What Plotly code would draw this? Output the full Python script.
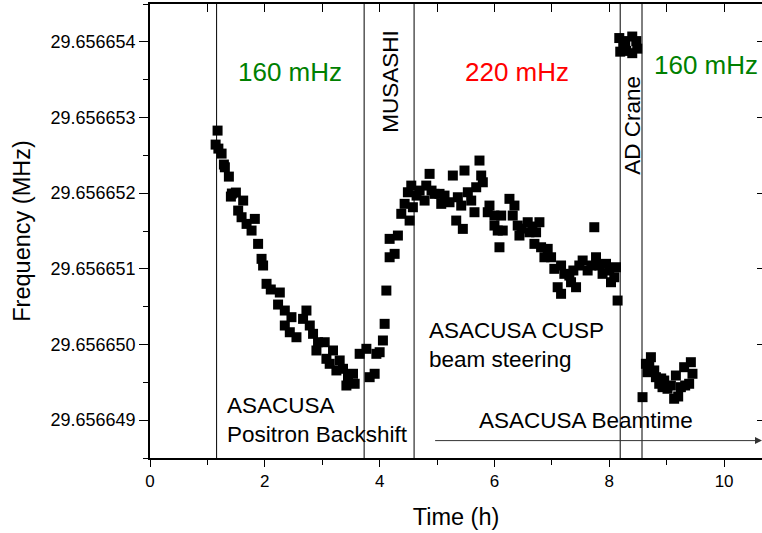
import plotly.graph_objects as go

# ---------------- data (time in h, frequency in MHz) ----------------
t_backshift = [1.177, 1.143, 1.191, 1.247, 1.287, 1.304, 1.374, 1.426, 1.409, 1.496,
               1.623, 1.536, 1.595, 1.682, 1.826, 1.769, 1.883, 1.943, 1.970, 2.030,
               2.104, 2.261, 2.231, 2.348, 2.464, 2.725, 2.666, 2.348, 2.435, 2.551,
               2.783, 2.840, 2.927, 3.043, 2.899, 3.188, 3.073, 3.130, 3.304, 3.247,
               3.362, 3.449, 3.536, 3.421, 3.565, 3.652]
f_backshift = [29.656652827, 29.656652642, 29.656652589, 29.656652523, 29.656652378,
               29.656652342, 29.656652219, 29.656651995, 29.656651955, 29.656652008,
               29.656651902, 29.656651770, 29.656651682, 29.656651594, 29.656651660,
               29.656651506, 29.656651330, 29.656651132, 29.656651044, 29.656650802,
               29.656650727, 29.656650687, 29.656650528, 29.656650449, 29.656650361,
               29.656650449, 29.656650339, 29.656650251, 29.656650162, 29.656650096,
               29.656650251, 29.656650141, 29.656650030, 29.656650030, 29.656649921,
               29.656649921, 29.656649811, 29.656649745, 29.656649789, 29.656649657,
               29.656649679, 29.656649568, 29.656649613, 29.656649458, 29.656649481,
               29.656649877]

t_musashi = [3.769, 3.826, 3.913, 3.943, 4.000, 4.057, 4.087, 4.117, 4.174, 4.261,
             4.174, 4.318, 4.377, 4.435, 4.492, 4.551, 4.522, 4.579]
f_musashi = [29.656649943, 29.656649568, 29.656649613, 29.656649877, 29.656649898,
             29.656650053, 29.656650273, 29.656650713, 29.656651153, 29.656651198,
             29.656651396, 29.656651440, 29.656651727, 29.656651859, 29.656652012,
             29.656652100, 29.656651638, 29.656651814]

t_cusp = [4.643, 4.696, 4.812, 4.870, 4.783, 4.904, 4.957, 5.043, 5.073, 5.130,
          5.217, 5.275, 5.478, 5.362, 5.334, 5.449, 5.421, 5.536, 5.595, 5.652,
          5.682, 5.739, 5.769, 5.797, 5.913, 5.883, 6.000, 6.000, 6.057, 6.087,
          6.261, 6.348, 6.318, 6.117, 6.144, 6.405, 6.435, 6.470, 6.579, 6.609,
          6.661, 6.783, 6.725, 6.696, 6.812, 6.927, 6.870, 6.986, 7.043, 7.160,
          7.217, 7.101, 7.160, 7.334, 7.374, 7.421, 7.304, 7.478, 7.536, 7.623,
          7.687, 7.739, 7.769, 7.826, 7.883, 7.943, 8.000, 8.030, 8.117, 8.087,
          8.145]
f_cusp = [29.656651968, 29.656652034, 29.656652100, 29.656652255, 29.656651902,
          29.656652034, 29.656651991, 29.656651991, 29.656651859, 29.656651968,
          29.656651880, 29.656652233, 29.656652299, 29.656651946, 29.656651638,
          29.656651528, 29.656651836, 29.656652012, 29.656651902, 29.656651748,
          29.656652078, 29.656652431, 29.656652233, 29.656652144, 29.656651836,
          29.656651748, 29.656651704, 29.656651572, 29.656651506, 29.656651285,
          29.656651925, 29.656651836, 29.656651704, 29.656651704, 29.656651506,
          29.656651572, 29.656651440, 29.656651532, 29.656651616, 29.656651483,
          29.656651559, 29.656651616, 29.656651483, 29.656651330, 29.656651285,
          29.656651264, 29.656651153, 29.656651153, 29.656651000, 29.656651044,
          29.656650934, 29.656650757, 29.656650670, 29.656650823, 29.656650978,
          29.656650757, 29.656650911, 29.656651044, 29.656651110, 29.656650978,
          29.656651044, 29.656651550, 29.656651153, 29.656651044, 29.656650934,
          29.656651066, 29.656650978, 29.656650823, 29.656651021, 29.656650889,
          29.656650581]

t_crane = [8.174, 8.278, 8.400, 8.470, 8.191, 8.296, 8.400, 8.487, 8.243]
f_crane = [29.656654050, 29.656654010, 29.656654070, 29.656654010, 29.656653870,
           29.656653880, 29.656653850, 29.656653910, 29.656653960]

t_after = [8.579, 8.638, 8.666, 8.696, 8.725, 8.783, 8.812, 8.870, 8.904, 8.927,
           8.957, 9.014, 9.073, 9.130, 9.160, 9.200, 9.247, 9.304, 9.322, 9.391,
           9.421, 9.449]
f_after = [29.656649304, 29.656649745, 29.656649634, 29.656649723, 29.656649832,
           29.656649657, 29.656649568, 29.656649481, 29.656649551, 29.656649436,
           29.656649524, 29.656649415, 29.656649458, 29.656649283, 29.656649590,
           29.656649313, 29.656649436, 29.656649700, 29.656649458, 29.656649481,
           29.656649766, 29.656649613]

# event boundaries (h)
event_times = [1.16, 3.73, 4.60, 8.19, 8.57]

# axis ticks
x_major = [0, 2, 4, 6, 8, 10]
x_minor = [1, 3, 5, 7, 9]
y_major = [29.656649, 29.656650, 29.656651, 29.656652, 29.656653, 29.656654]
y_major_text = ["29.656649", "29.656650", "29.656651", "29.656652", "29.656653", "29.656654"]
y_minor = [29.6566485, 29.6566495, 29.6566505, 29.6566515, 29.6566525, 29.6566535, 29.6566545]

X_RANGE = [0, 10.66]
Y_RANGE = [29.6566485, 29.6566545]

FONT = "Arial, 'Liberation Sans', sans-serif"

fig = go.Figure()
for tt, ff in [(t_backshift, f_backshift), (t_musashi, f_musashi), (t_cusp, f_cusp),
               (t_crane, f_crane), (t_after, f_after)]:
    fig.add_trace(go.Scatter(x=tt, y=ff, mode="markers",
                             marker=dict(symbol="square", size=10, color="black",
                                         line=dict(width=0)),
                             showlegend=False, hoverinfo="x+y"))

# dummy trace for the mirrored (top/right) axes
fig.add_trace(go.Scatter(x=[], y=[], xaxis="x2", yaxis="y2", showlegend=False,
                         hoverinfo="skip"))

for t in event_times:
    fig.add_shape(type="line", x0=t, x1=t, y0=0, y1=1, xref="x", yref="paper",
                  line=dict(color="black", width=1))

# text labels
def txt(x, y, s, color="black", size=22.5, angle=0, xanchor="center", align="center"):
    fig.add_annotation(x=x, y=y, xref="x", yref="y", text=s, showarrow=False,
                       textangle=angle, xanchor=xanchor, yanchor="middle", align=align,
                       font=dict(family=FONT, size=size, color=color))

txt(2.44, 29.6566536, "160 mHz", color="#008000", size=26)
txt(6.40, 29.6566536, "220 mHz", color="#ff0000", size=26)
txt(9.69, 29.6566537, "160 mHz", color="#008000", size=26)
txt(4.19, 29.65665348, "MUSASHI", angle=-90)
txt(8.39, 29.6566529, "AD Crane", angle=-90)
txt(1.30, 29.6566490, "ASACUSA<br>Positron Backshift", xanchor="left", align="left")
txt(4.82, 29.6566500, "ASACUSA CUSP<br>beam steering", xanchor="left", align="left")
txt(5.69, 29.6566490, "ASACUSA Beamtime", xanchor="left", align="left")

# beamtime arrow
fig.add_annotation(x=10.66, y=29.65664873, ax=4.94, ay=29.65664873, xref="x", yref="y",
                   axref="x", ayref="y", showarrow=True, arrowhead=2, arrowsize=1.4,
                   arrowwidth=1, arrowcolor="#333333", text="")

fig.update_layout(
    width=762, height=533,
    margin=dict(l=150, r=0, t=4, b=75),
    paper_bgcolor="white", plot_bgcolor="white",
    font=dict(family=FONT, color="black"),
    xaxis=dict(range=X_RANGE, tickmode="array", tickvals=x_major,
               ticks="outside", ticklen=7, tickwidth=1, tickcolor="black",
               minor=dict(tickmode="array", tickvals=x_minor, ticks="outside",
                          ticklen=5, tickcolor="black"),
               showline=True, linecolor="black", linewidth=1.5, showgrid=False,
               zeroline=False, tickfont=dict(size=17),
               title=dict(text="Time (h)", font=dict(size=23.5), standoff=18)),
    yaxis=dict(range=Y_RANGE, tickmode="array", tickvals=y_major, ticktext=y_major_text,
               ticks="outside", ticklen=9, tickwidth=1, tickcolor="black",
               minor=dict(tickmode="array", tickvals=y_minor, ticks="outside",
                          ticklen=5, tickcolor="black"),
               showline=True, linecolor="black", linewidth=1.5, showgrid=False,
               zeroline=False, tickfont=dict(size=18),
               title=dict(text="Frequency (MHz)", font=dict(size=23.5), standoff=13)),
    xaxis2=dict(range=X_RANGE, overlaying="x", side="top", tickmode="array",
                tickvals=x_major + x_minor, ticks="inside", ticklen=8,
                tickcolor="black", showticklabels=False, showline=True,
                linecolor="black", linewidth=1.5, showgrid=False, zeroline=False),
    yaxis2=dict(range=Y_RANGE, overlaying="y", side="right", tickmode="array",
                tickvals=y_major, ticks="inside", ticklen=5, tickcolor="black",
                showticklabels=False, showline=False, showgrid=False, zeroline=False),
)

fig.write_html("out.html")
